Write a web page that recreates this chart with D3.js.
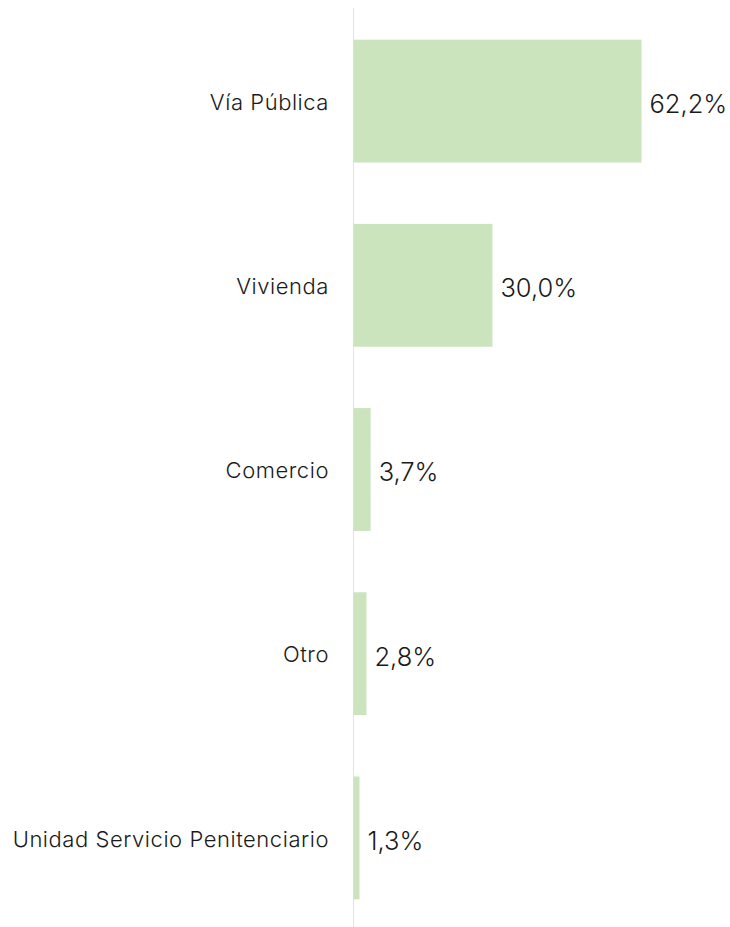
<!DOCTYPE html>
<html><head><meta charset="utf-8">
<script src="https://cdn.jsdelivr.net/npm/d3@7"></script>
<style>body{margin:0;background:#fff}svg{display:block}</style>
</head><body>
<script>
const categories = ["Vía Pública","Vivienda","Comercio","Otro","Unidad Servicio Penitenciario"];
const values = [62.2, 30.0, 3.7, 2.8, 1.3];
const valueLabels = ["62,2%","30,0%","3,7%","2,8%","1,3%"];

const W = 730, H = 927;
const svg = d3.select("body").append("svg").attr("width", W).attr("height", H);
const x0 = 353.5;
const x = d3.scaleLinear().domain([0, 62.2]).range([x0, 641.5]);
const y = d3.scaleBand().domain(categories).range([9, 930]).paddingInner(0.333).paddingOuter(0.1665);
const data = categories.map((c,i)=>({c, v: values[i], l: valueLabels[i]}));

svg.append("line").attr("x1", x0).attr("x2", x0).attr("y1", 8).attr("y2", 927)
  .attr("stroke", "#e3e3e3").attr("stroke-width", 1);

svg.selectAll("rect.bar").data(data).join("rect").attr("class","bar")
  .attr("x", x(0)).attr("y", d=>y(d.c)).attr("width", d=>x(d.v)-x(0)).attr("height", y.bandwidth())
  .attr("fill", "#cce4be");

svg.selectAll("text.cat").data(data).join("text").attr("class","cat")
  .attr("x", 329).attr("y", d=>y(d.c)+y.bandwidth()/2+1).attr("dy","0.35em")
  .attr("text-anchor","end").attr("font-family","Inter, 'Open Sans', sans-serif")
  .attr("font-weight", 300).attr("letter-spacing", "0.55px")
  .attr("font-size", 22).attr("fill","#1a1a1a").text(d=>d.c);

svg.selectAll("text.val").data(data).join("text").attr("class","val")
  .attr("x", d=>x(d.v)+8).attr("y", d=>y(d.c)+y.bandwidth()/2+3).attr("dy","0.35em")
  .attr("font-family","Inter, 'Open Sans', sans-serif").attr("font-weight", 300)
  .attr("font-size", 25.5).attr("fill","#1a1a1a").text(d=>d.l);
</script>
</body></html>
